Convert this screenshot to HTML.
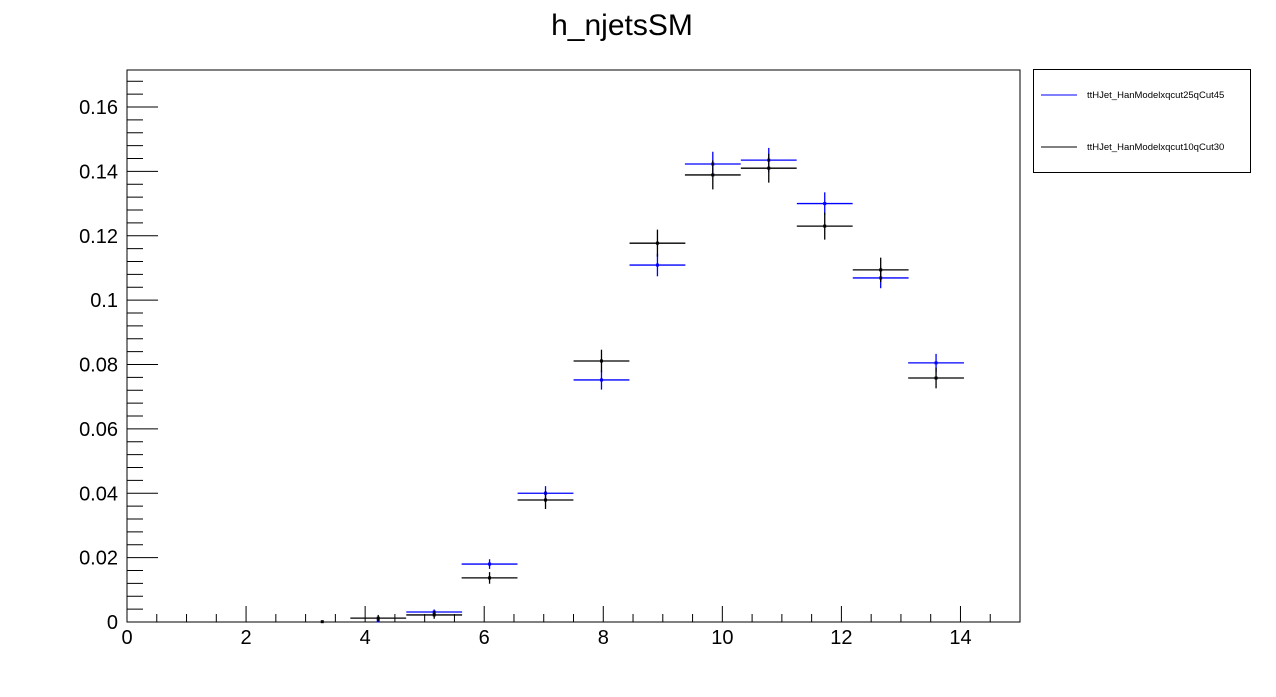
<!DOCTYPE html>
<html><head><meta charset="utf-8"><style>
body{margin:0;background:#fff;font-family:"Liberation Sans",Arial,sans-serif}
</style></head><body>
<svg id="c" width="1276" height="692" xmlns="http://www.w3.org/2000/svg" font-family="Liberation Sans, Arial, sans-serif">
<text x="622" y="35" font-size="30" text-anchor="middle">h_njetsSM</text>
<rect x="127" y="70" width="893" height="552" fill="none" stroke="#000"/>
<g id="axes"></g>
<g id="marks"></g>
<g>
<rect x="1033.5" y="69.5" width="217" height="103" fill="#fff" stroke="#000"/>
<line x1="1041" y1="95" x2="1077" y2="95" stroke="#00f"/>
<text x="1087" y="98" font-size="9.5">ttHJet_HanModelxqcut25qCut45</text>
<line x1="1041" y1="147" x2="1077" y2="147" stroke="#000"/>
<text x="1087" y="150" font-size="9.5">ttHJet_HanModelxqcut10qCut30</text>
</g>
</svg>
<script>
const binCenters=[3.28,4.22,5.16,6.09,7.03,7.97,8.91,9.84,10.78,11.72,12.66,13.59];
const blueVals=[null,0.0003,0.0031,0.018,0.040,0.0752,0.1109,0.1423,0.1435,0.130,0.1069,0.0805];
const blueErr=[0,0.0003,0.0008,0.0015,0.0022,0.003,0.0035,0.0038,0.0038,0.0035,0.0032,0.0028];
const blackVals=[0.0001,0.0012,0.0022,0.0137,0.0379,0.0811,0.1177,0.1389,0.141,0.123,0.1094,0.0758];
const blackErr=[0.0001,0.001,0.0012,0.0018,0.0028,0.0035,0.0042,0.0045,0.0045,0.0042,0.0038,0.0032];
const xTicks=[0,2,4,6,8,10,12,14];
const yTicks=[0,0.02,0.04,0.06,0.08,0.1,0.12,0.14,0.16];
const yTickLabels=["0","0.02","0.04","0.06","0.08","0.1","0.12","0.14","0.16"];
const binWidth=0.9375;
const X0=127,X1=1020,Y0=622,Y1=70,xMax=15,yMax=0.1715;
const sx=v=>X0+v/xMax*(X1-X0), sy=v=>Y0-v/yMax*(Y0-Y1);
const NS="http://www.w3.org/2000/svg";
function mk(t,a,p){const e=document.createElementNS(NS,t);for(const k in a)e.setAttribute(k,a[k]);p.appendChild(e);return e;}
const ax=document.getElementById('axes'), mg=document.getElementById('marks');
for(let v=0;v<=15.001;v+=0.5){const major=Math.abs(v/2-Math.round(v/2))<1e-6;
 const l=mk('line',{x1:sx(v),x2:sx(v),y1:Y0,y2:Y0-(major?16:8),stroke:'#000'},ax);
 
 }
xTicks.forEach(v=>{const t=mk('text',{x:sx(v),y:644,'font-size':20,'text-anchor':'middle'},ax);t.textContent=v;
 
 });
for(let v=0;v<=0.171;v+=0.004){const major=Math.abs(v/0.02-Math.round(v/0.02))<1e-6;
 const l=mk('line',{x1:X0,x2:X0+(major?31:16),y1:sy(v),y2:sy(v),stroke:'#000'},ax);
 
 }
yTicks.forEach((v,i)=>{const t=mk('text',{x:118,y:sy(v)+7,'font-size':20,'text-anchor':'end'},ax);t.textContent=yTickLabels[i];
 
 });
function series(vals,errs,col,name){
 binCenters.forEach((c,i)=>{const v=vals[i];if(v==null)return;
  const g=mk('g',{},mg);
  
  
  if(v>0.0005){
   mk('line',{x1:sx(c-binWidth/2),x2:sx(c+binWidth/2),y1:sy(v),y2:sy(v),stroke:col,'stroke-width':1.3},g);
   mk('line',{x1:sx(c),x2:sx(c),y1:sy(v+errs[i]),y2:sy(Math.max(0,v-errs[i])),stroke:col,'stroke-width':1.3},g);
  }
  mk('rect',{x:sx(c)-1.5,y:sy(v)-1.5,width:3,height:3,fill:col},g);
 });}
series(blueVals,blueErr,'#00f','blue-series');
series(blackVals,blackErr,'#000','black-series');
</script>
</body></html>
